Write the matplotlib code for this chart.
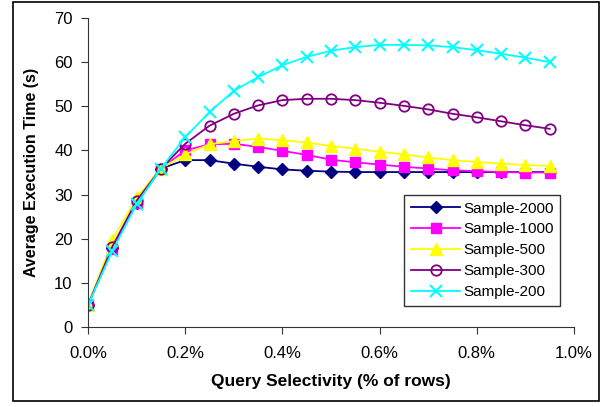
import matplotlib
matplotlib.use("Agg")
from matplotlib import pyplot as plt
from matplotlib.patches import Rectangle
from matplotlib.ticker import FuncFormatter, MultipleLocator

plt.rcParams['font.family'] = ['Liberation Sans', 'DejaVu Sans']

# Query selectivity (% of rows)
selectivity = [0.0, 0.05, 0.1, 0.15, 0.2, 0.25, 0.3, 0.35, 0.4, 0.45,
               0.5, 0.55, 0.6, 0.65, 0.7, 0.75, 0.8, 0.85, 0.9, 0.95]

# Average execution time (s) per sample size
sample_2000 = [5.0, 18.0, 28.0, 35.9, 37.8, 37.8, 37.0, 36.3, 35.7, 35.4,
               35.2, 35.1, 35.1, 35.1, 35.1, 35.1, 35.1, 35.1, 35.1, 35.1]
sample_1000 = [5.0, 17.6, 28.2, 35.9, 40.0, 41.4, 41.5, 40.8, 39.9, 39.0,
               37.9, 37.3, 36.8, 36.3, 35.9, 35.5, 35.3, 35.1, 35.0, 35.0]
sample_500 = [5.0, 19.6, 29.4, 35.9, 39.1, 41.4, 42.1, 42.7, 42.3, 41.8,
              41.0, 40.4, 39.7, 39.1, 38.4, 37.8, 37.4, 37.0, 36.7, 36.5]
sample_300 = [5.0, 18.2, 28.6, 35.9, 41.5, 45.6, 48.3, 50.2, 51.4, 51.7,
              51.7, 51.4, 50.8, 50.1, 49.3, 48.3, 47.5, 46.6, 45.7, 44.9]
sample_200 = [5.0, 17.2, 27.8, 35.9, 43.0, 48.7, 53.5, 56.6, 59.3, 61.2,
              62.6, 63.4, 63.9, 63.9, 63.8, 63.4, 62.7, 61.9, 61.0, 60.0]

fig = plt.figure(figsize=(6.08, 4.07), dpi=100)
ax = fig.add_axes([88 / 608, 80 / 407, 486 / 608, 309 / 407])

# outer chart border
fig.patches.append(Rectangle((12.5 / 608, 6 / 407), 586.5 / 608, 399.5 / 407,
                             transform=fig.transFigure, fill=False,
                             edgecolor='black', linewidth=1.2))

ax.plot(selectivity, sample_2000, color='#000080', marker='D', markersize=6,
        linewidth=1.3, label='Sample-2000')
ax.plot(selectivity, sample_1000, color='#FF00FF', marker='s', markersize=7.5,
        linewidth=1.3, label='Sample-1000')
ax.plot(selectivity, sample_500, color='#FFFF00', marker='^', markersize=8.5,
        linewidth=1.3, label='Sample-500')
ax.plot(selectivity, sample_300, color='#800080', marker='o', markersize=7.5,
        fillstyle='none', markeredgewidth=1.3, linewidth=1.3, label='Sample-300')
ax.plot(selectivity, sample_200, color='#00FFFF', marker='x', markersize=8,
        markeredgewidth=1.5, linewidth=1.3, label='Sample-200')

ax.set_xlim(0, 1.0)
ax.set_ylim(0, 70)
ax.xaxis.set_major_locator(MultipleLocator(0.2))
ax.yaxis.set_major_locator(MultipleLocator(10))
ax.xaxis.set_major_formatter(FuncFormatter(lambda v, p: f'{v:.1f}%'))

for side in ['top', 'right']:
    ax.spines[side].set_visible(False)
for side in ['left', 'bottom']:
    ax.spines[side].set_color('#333333')
ax.tick_params(axis='both', direction='out', length=5, color='#333333',
               labelsize=12, pad=6)
ax.tick_params(axis='x', pad=9)

ax.set_xlabel('Query Selectivity (% of rows)', fontsize=12.5, fontweight='bold', labelpad=9)
ax.set_ylabel('Average Execution Time (s)', fontsize=11.5, fontweight='bold', labelpad=11)

leg = ax.legend(loc='lower right', bbox_to_anchor=(0.972, 0.068), fontsize=11,
                frameon=True, fancybox=False, edgecolor='black',
                handlelength=3.2, borderpad=0.45, labelspacing=0.45,
                handletextpad=0.2, borderaxespad=0)
leg.get_frame().set_linewidth(1.0)

fig.savefig('out.png', dpi=100)
